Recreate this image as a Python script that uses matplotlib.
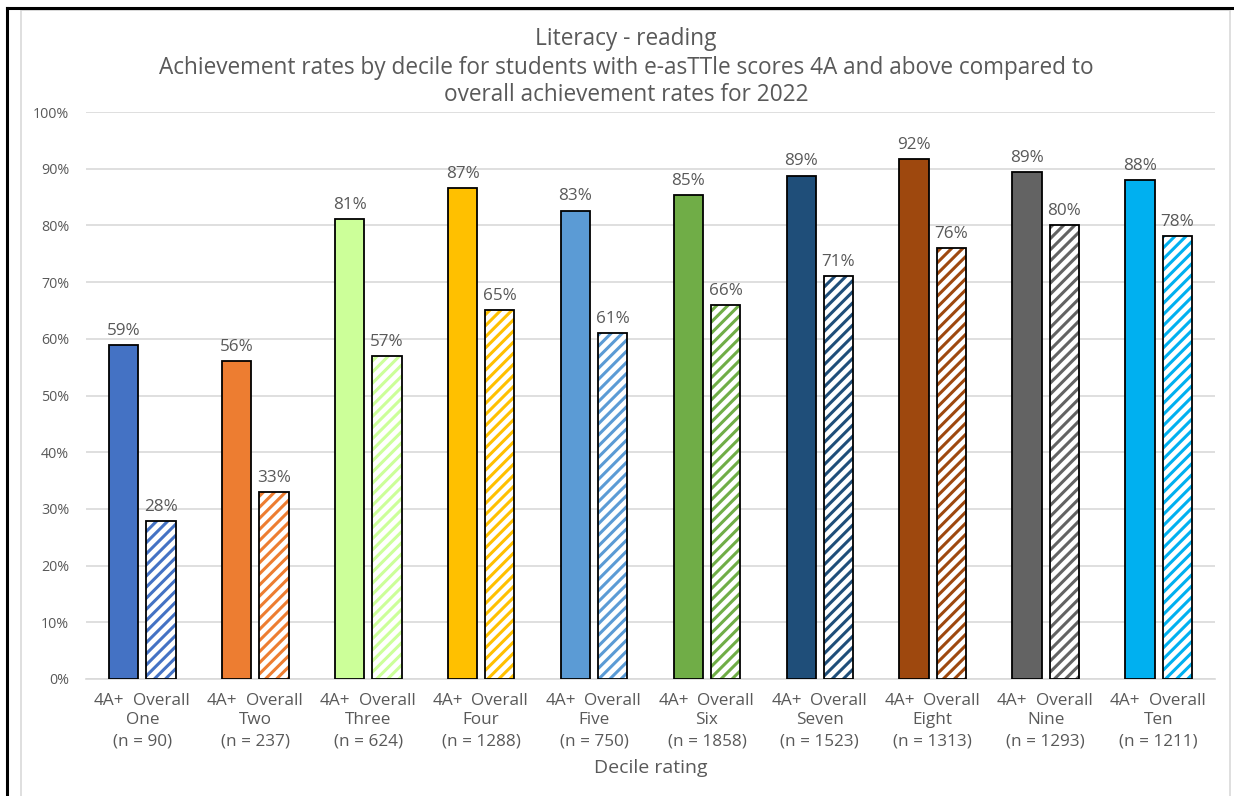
import matplotlib
matplotlib.use("Agg")
import matplotlib.pyplot as plt
from matplotlib.lines import Line2D
from matplotlib.patches import Rectangle
import numpy as np

# Data
deciles = ["One", "Two", "Three", "Four", "Five", "Six", "Seven", "Eight", "Nine", "Ten"]
n_students = [90, 237, 624, 1288, 750, 1858, 1523, 1313, 1293, 1211]
rate_4a_plus = [58.9, 56.1, 81.1, 86.6, 82.6, 85.4, 88.8, 91.7, 89.4, 88.0]
rate_overall = [27.9, 33.0, 57.0, 65.1, 61.0, 66.0, 71.1, 76.0, 80.0, 78.1]
bar_colors = ["#4472C4", "#ED7D31", "#CCFF99", "#FFC000", "#5B9BD5",
              "#70AD47", "#1F4E79", "#9E480E", "#636363", "#00B0F0"]
series_names = ["4A+", "Overall"]
title_lines = ["Literacy - reading",
               "Achievement rates by decile for students with e-asTTle scores 4A and above compared to",
               "overall achievement rates for 2022"]
x_title = "Decile rating"

FONT = "Open Sans"
TXT = "#595959"
GRID = "#D9D9D9"

plt.rcParams["font.family"] = [FONT, "DejaVu Sans"]
plt.rcParams["hatch.linewidth"] = 2.2

W, H = 1234, 796
fig = plt.figure(figsize=(W / 100, H / 100), dpi=100)

# Outer frame
fig.add_artist(Line2D([7 / W, 7 / W], [0, 1 - 8 / H], transform=fig.transFigure,
                      color="black", lw=2.2))
fig.add_artist(Line2D([7 / W, 1], [1 - 8 / H, 1 - 8 / H], transform=fig.transFigure,
                      color="black", lw=2.2))
fig.add_artist(Rectangle((21 / W, -0.01), (1230 - 21) / W, 1 - 10 / H + 0.01,
                         transform=fig.transFigure, fill=False, edgecolor=GRID, lw=1.2))

left, right, bottom, top = 86, 1215, 679, 112
ax = fig.add_axes([left / W, 1 - bottom / H, (right - left) / W, (bottom - top) / H])

x = np.arange(len(deciles))
bw = 0.26
off = 0.165

for i in range(len(deciles)):
    c = bar_colors[i]
    ax.bar(x[i] - off, rate_4a_plus[i], width=bw, color=c, edgecolor="black",
           linewidth=1.3, zorder=3)
    ax.bar(x[i] + off, rate_overall[i], width=bw, color="white", edgecolor=c,
           hatch="///", linewidth=0, zorder=3)
    ax.bar(x[i] + off, rate_overall[i], width=bw, fill=False, edgecolor="black",
           linewidth=1.3, zorder=4)
    ax.text(x[i] - off, rate_4a_plus[i] + 1.1, f"{rate_4a_plus[i]:.0f}%", ha="center",
            va="bottom", fontsize=12.3, color=TXT, zorder=5)
    ax.text(x[i] + off, rate_overall[i] + 1.1, f"{rate_overall[i]:.0f}%", ha="center",
            va="bottom", fontsize=12.3, color=TXT, zorder=5)

ax.set_xlim(-0.5, len(deciles) - 0.5)
ax.set_ylim(0, 100)
ax.set_yticks(np.arange(0, 101, 10))
ax.set_yticklabels([f"{v}%" for v in range(0, 101, 10)], fontsize=10.3, color=TXT)
ax.tick_params(axis="y", length=0, pad=12)
ax.yaxis.grid(True, color=GRID, lw=1.2, zorder=0)
ax.set_axisbelow(True)
for s in ["top", "right", "left"]:
    ax.spines[s].set_visible(False)
ax.spines["bottom"].set_color(GRID)
ax.spines["bottom"].set_linewidth(1.2)
ax.set_xticks([])

# Category labels under the axis
tr = ax.get_xaxis_transform()
def ypos(pix):
    return (bottom - pix) / (bottom - top)

for i in range(len(deciles)):
    ax.text(x[i] - 0.295, ypos(701), series_names[0], transform=tr, ha="center",
            va="center", fontsize=12.3, color=TXT)
    ax.text(x[i] + off, ypos(701), series_names[1], transform=tr, ha="center",
            va="center", fontsize=12.3, color=TXT)
    ax.text(x[i], ypos(720), deciles[i], transform=tr, ha="center",
            va="center", fontsize=12.3, color=TXT)
    ax.text(x[i], ypos(741), f"(n = {n_students[i]})", transform=tr, ha="center",
            va="center", fontsize=12.3, color=TXT)

fig.text((left + right) / 2 / W, 1 - 768 / H, x_title, ha="center", va="center",
         fontsize=14, color=TXT)

for k, (line, yy) in enumerate(zip(title_lines, [39, 68, 95])):
    fig.text(626 / W, 1 - yy / H, line, ha="center", va="center", fontsize=16.3,
             color=TXT)

fig.savefig("out.png", dpi=100, facecolor="white")
